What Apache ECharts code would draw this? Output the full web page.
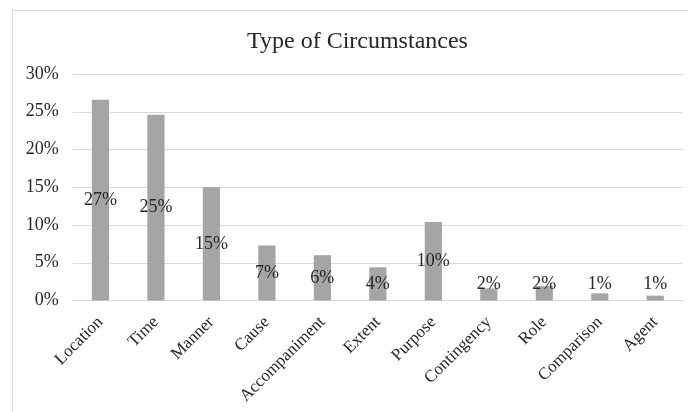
<!DOCTYPE html>
<html>
<head>
<meta charset="utf-8">
<script src="https://cdn.jsdelivr.net/npm/echarts@6/dist/echarts.min.js"></script>
<style>
  html, body { margin: 0; padding: 0; background: #fff; }
  #chart { width: 688px; height: 412px; }
</style>
</head>
<body>
<div id="chart"></div>
<script>
// Share of each circumstance type (percent)
const categories = ['Location', 'Time', 'Manner', 'Cause', 'Accompaniment', 'Extent',
  'Purpose', 'Contingency', 'Role', 'Comparison', 'Agent'];
const shares = [26.6, 24.6, 15.0, 7.3, 6.0, 4.4, 10.4, 1.6, 1.9, 0.95, 0.64];
const yTicks = [0, 5, 10, 15, 20, 25, 30];

const FONT = '"Liberation Serif", "DejaVu Serif", serif';
const TEXT = '#262626';

// Short bars keep their label lifted off the axis
const seriesData = shares.map(v => {
  if (v < 4.5) {
    return { value: v, label: { position: 'insideBottom', distance: 7 } };
  }
  return v;
});

const chart = echarts.init(document.getElementById('chart'));
chart.setOption({
  animation: false,
  backgroundColor: '#fff',
  graphic: [{
    type: 'rect',
    shape: { x: 12.5, y: 10.5, width: 700, height: 420 },
    style: { fill: 'none', stroke: '#d9d9d9', lineWidth: 1 },
    silent: true
  }],
  title: {
    text: 'Type of Circumstances',
    left: 242,
    top: 25,
    textStyle: { fontFamily: FONT, fontSize: 24, fontWeight: 'normal', color: TEXT }
  },
  grid: { left: 72.7, right: 5, top: 74, bottom: 111.5, containLabel: false },
  xAxis: {
    type: 'category',
    data: categories,
    axisLine: { show: true, lineStyle: { color: '#d9d9d9', width: 1 } },
    axisTick: { show: false },
    axisLabel: {
      rotate: 45,
      interval: 0,
      margin: 19,
      fontFamily: FONT,
      fontSize: 17,
      color: TEXT
    }
  },
  yAxis: {
    type: 'value',
    min: 0,
    max: 30,
    interval: 5,
    axisLine: { show: false },
    axisTick: { show: false },
    splitLine: { lineStyle: { color: '#d9d9d9', width: 1 } },
    axisLabel: {
      formatter: v => (yTicks.includes(v) ? v + '%' : ''),
      margin: 14,
      fontFamily: FONT,
      fontSize: 18,
      color: TEXT
    }
  },
  series: [{
    type: 'bar',
    data: seriesData,
    barWidth: '31%',
    itemStyle: { color: '#a5a5a5' },
    label: {
      show: true,
      position: 'inside',
      formatter: p => Math.round(p.value) + '%',
      fontFamily: FONT,
      fontSize: 18,
      color: TEXT
    }
  }]
});
</script>
</body>
</html>
